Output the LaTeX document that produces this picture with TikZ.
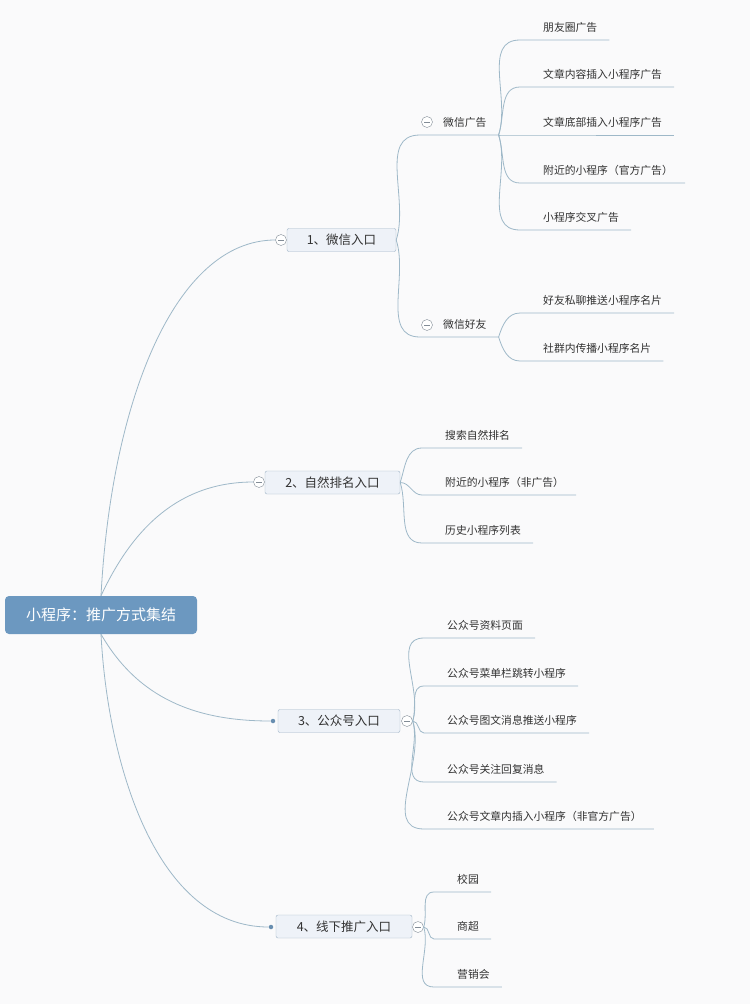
\documentclass[tikz,border=0pt]{standalone}
\usepackage{fontspec}
\setmainfont{Noto Sans CJK SC}
\usetikzlibrary{positioning}
\definecolor{paper}{RGB}{250,250,251}
\definecolor{rootblue}{RGB}{108,152,192}
\definecolor{topicpale}{RGB}{238,242,248}
\definecolor{topicline}{RGB}{160,180,199}
\definecolor{linkblue}{RGB}{158,184,200}
\definecolor{ink}{RGB}{50,50,50}
\definecolor{foldgray}{RGB}{130,140,150}
\definecolor{dotblue}{RGB}{104,142,176}

\begin{document}
\begin{tikzpicture}[x=1pt,y=-1pt,
  every node/.style={font=\fontsize{10.8}{13}\selectfont,text=ink},
  root/.style={fill=rootblue,rounded corners=4pt,text=white,font=\fontsize{15}{18}\selectfont,
    minimum width=192pt,minimum height=38pt,text height=12.4pt,text depth=1pt},
  topic/.style={draw=topicline,fill=topicpale,rounded corners=2pt,font=\fontsize{12.5}{15}\selectfont,
    minimum height=23pt,text height=10.5pt,text depth=1pt,inner xsep=0pt},
  fold/.style={circle,draw=foldgray,fill=white,minimum size=11pt,inner sep=0pt,
    path picture={\draw[foldgray] ([xshift=-3pt]path picture bounding box.center) -- ([xshift=3pt]path picture bounding box.center);}},
  dot/.style={circle,fill=dotblue,minimum size=4.5pt,inner sep=0pt},
  leaf/.style={anchor=south west,inner sep=0pt,text height=9pt,text depth=8.5pt},
  link/.style={draw=linkblue,line width=0.8pt},
  rise/.style={out=72,in=180},
  fall/.style={out=-72,in=180},
  flat/.style={out=0,in=180}]
  \fill[paper] (0,0) rectangle (750,1004);
  % centre topic
  \node[root] (root) at (101,615) {小程序：推广方式集结};
  % main branches
  \node[topic,minimum width=109pt] (wx) at (341.5,240) {1、微信入口};
  \node[topic,minimum width=135pt] (zr) at (332.5,482.5) {2、自然排名入口};
  \node[topic,minimum width=122pt] (gzh) at (339,721) {3、公众号入口};
  \node[topic,minimum width=136pt] (xx) at (344,926.5) {4、线下推广入口};
  \node[fold] (wxf) at (281,240) {};
  \node[fold] (zrf) at (259,482) {};
  \node[fold] (gzhf) at (407,721) {};
  \node[fold] (xxf) at (418,927) {};
  \node[dot] (gzhd) at (273,721) {};
  \node[dot] (xxd) at (271,927) {};
  \draw[link] (root.north) to[out=87,in=180,out looseness=1.25,in looseness=0.65] (wxf.west);
  \draw[link] (root.north) to[out=65,in=180] (zrf.west);
  \draw[link] (root.south) to[out=-60,in=180] (gzhd.west);
  \draw[link] (root.south) to[out=-87,in=180,in looseness=0.85] (xxd.west);
  % 1: wechat
  \node[leaf] (wxad) at (443,135) {微信广告};
  \node[leaf] (wxfr) at (443,337) {微信好友};
  \node[fold] (wxadf) at (427,122) {};
  \node[fold] (wxfrf) at (427,325) {};
  \coordinate (wxadx) at ([xshift=12pt]wxad.south east);
  \coordinate (wxfrx) at ([xshift=12pt]wxfr.south east);
  \draw[link] (wx.east) to[rise] ([xshift=-23pt]wxad.south west) -- (wxadx);
  \draw[link] (wx.east) to[fall] ([xshift=-23pt]wxfr.south west) -- (wxfrx);
  \node[leaf] (ad1) at (543,40) {朋友圈广告};
  \node[leaf] (ad2) at (543,87) {文章内容插入小程序广告};
  \node[leaf] (ad3) at (543,135) {文章底部插入小程序广告};
  \node[leaf] (ad4) at (543,183) {附近的小程序（官方广告）};
  \node[leaf] (ad5) at (543,230) {小程序交叉广告};
  \draw[link] (wxadx) to[rise] ([xshift=-23pt]ad1.south west) -- ([xshift=12pt]ad1.south east);
  \draw[link] (wxadx) to[rise] ([xshift=-23pt]ad2.south west) -- ([xshift=12pt]ad2.south east);
  \draw[link] (wxadx) to[flat] ([xshift=-23pt]ad3.south west) -- ([xshift=12pt]ad3.south east);
  \draw[link] (wxadx) to[fall] ([xshift=-23pt]ad4.south west) -- ([xshift=12pt]ad4.south east);
  \draw[link] (wxadx) to[fall] ([xshift=-23pt]ad5.south west) -- ([xshift=12pt]ad5.south east);
  \node[leaf] (fr1) at (543,313) {好友私聊推送小程序名片};
  \node[leaf] (fr2) at (543,361) {社群内传播小程序名片};
  \draw[link] (wxfrx) to[rise] ([xshift=-23pt]fr1.south west) -- ([xshift=12pt]fr1.south east);
  \draw[link] (wxfrx) to[fall] ([xshift=-23pt]fr2.south west) -- ([xshift=12pt]fr2.south east);
  % 2: natural ranking
  \node[leaf] (zr1) at (445,448) {搜索自然排名};
  \node[leaf] (zr2) at (445,495) {附近的小程序（非广告）};
  \node[leaf] (zr3) at (445,543) {历史小程序列表};
  \draw[link] (zr.east) to[rise] ([xshift=-23pt]zr1.south west) -- ([xshift=12pt]zr1.south east);
  \draw[link] (zr.east) to[flat] ([xshift=-23pt]zr2.south west) -- ([xshift=12pt]zr2.south east);
  \draw[link] (zr.east) to[fall] ([xshift=-23pt]zr3.south west) -- ([xshift=12pt]zr3.south east);
  % 3: official accounts
  \node[leaf] (gz1) at (447,638) {公众号资料页面};
  \node[leaf] (gz2) at (447,686) {公众号菜单栏跳转小程序};
  \node[leaf] (gz3) at (447,733) {公众号图文消息推送小程序};
  \node[leaf] (gz4) at (447,782) {公众号关注回复消息};
  \node[leaf] (gz5) at (447,829) {公众号文章内插入小程序（非官方广告）};
  \draw[link] (gzhf.east) to[rise] ([xshift=-23pt]gz1.south west) -- ([xshift=12pt]gz1.south east);
  \draw[link] (gzhf.east) to[rise] ([xshift=-23pt]gz2.south west) -- ([xshift=12pt]gz2.south east);
  \draw[link] (gzhf.east) to[flat] ([xshift=-23pt]gz3.south west) -- ([xshift=12pt]gz3.south east);
  \draw[link] (gzhf.east) to[fall] ([xshift=-23pt]gz4.south west) -- ([xshift=12pt]gz4.south east);
  \draw[link] (gzhf.east) to[fall] ([xshift=-23pt]gz5.south west) -- ([xshift=12pt]gz5.south east);
  % 4: offline
  \node[leaf] (xx1) at (457,892) {校园};
  \node[leaf] (xx2) at (457,939) {商超};
  \node[leaf] (xx3) at (457,987) {营销会};
  \draw[link] (xxf.east) to[rise] ([xshift=-23pt]xx1.south west) -- ([xshift=12pt]xx1.south east);
  \draw[link] (xxf.east) to[flat] ([xshift=-23pt]xx2.south west) -- ([xshift=12pt]xx2.south east);
  \draw[link] (xxf.east) to[fall] ([xshift=-23pt]xx3.south west) -- ([xshift=12pt]xx3.south east);
\end{tikzpicture}
\end{document}
